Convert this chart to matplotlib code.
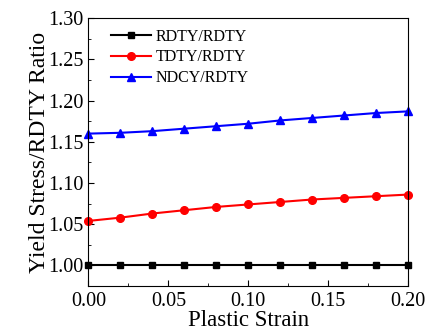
import matplotlib
matplotlib.use("Agg")
import matplotlib.pyplot as plt
from matplotlib.ticker import MultipleLocator
from matplotlib.transforms import blended_transform_factory

plt.rcParams['font.family'] = ['Liberation Serif', 'DejaVu Serif']

strain = [0.00, 0.02, 0.04, 0.06, 0.08, 0.10, 0.12, 0.14, 0.16, 0.18, 0.20]
rdty = [1.0] * 11
tdty = [1.054, 1.058, 1.063, 1.067, 1.071, 1.074, 1.077, 1.080, 1.082, 1.084, 1.086]
ndcy = [1.160, 1.161, 1.163, 1.166, 1.169, 1.172, 1.176, 1.179, 1.182, 1.185, 1.187]

fig = plt.figure(figsize=(4.31, 3.32), dpi=100)
ax = fig.add_axes([88.5 / 431, 1 - 286 / 332, (408 - 88.5) / 431, (286 - 18.3) / 332])

ax.plot(strain, rdty, color='black', marker='s', markersize=5, lw=1.5, label='RDTY/RDTY', clip_on=False)
ax.plot(strain, tdty, color='red', marker='o', markersize=5.5, lw=1.5, label='TDTY/RDTY', clip_on=False)
ax.plot(strain, ndcy, color='blue', marker='^', markersize=6, lw=1.5, label='NDCY/RDTY', clip_on=False)

ax.set_xlim(0, 0.2)
ax.set_ylim(0.975, 1.30)
ax.xaxis.set_major_locator(MultipleLocator(0.05))
ax.xaxis.set_minor_locator(MultipleLocator(0.025))
ax.yaxis.set_major_locator(MultipleLocator(0.05))
ax.yaxis.set_minor_locator(MultipleLocator(0.025))
ax.xaxis.set_major_formatter(lambda v, p: f"{v:.2f}")
ax.yaxis.set_major_formatter(lambda v, p: f"{v:.2f}")
ax.tick_params(which='both', direction='in', top=False, right=False, labelsize=14.5)
ax.tick_params(which='major', length=4)
ax.tick_params(which='minor', length=2.5)
ax.tick_params(axis='x', pad=4)

ax.set_xlabel('Plastic Strain', fontsize=16.5, va='bottom')
ax.xaxis.set_label_coords(0.5, 1.0 / 332,
                          transform=blended_transform_factory(ax.transAxes, fig.transFigure))
ax.set_ylabel('Yield Stress/RDTY Ratio', fontsize=17, labelpad=-1)

ax.legend(loc='upper left', frameon=False, fontsize=11.5, handlelength=2.5,
          borderaxespad=0.0, labelspacing=0.3, handletextpad=0.3,
          bbox_to_anchor=(0.05, 0.985))

fig.savefig('out.png', dpi=100)
